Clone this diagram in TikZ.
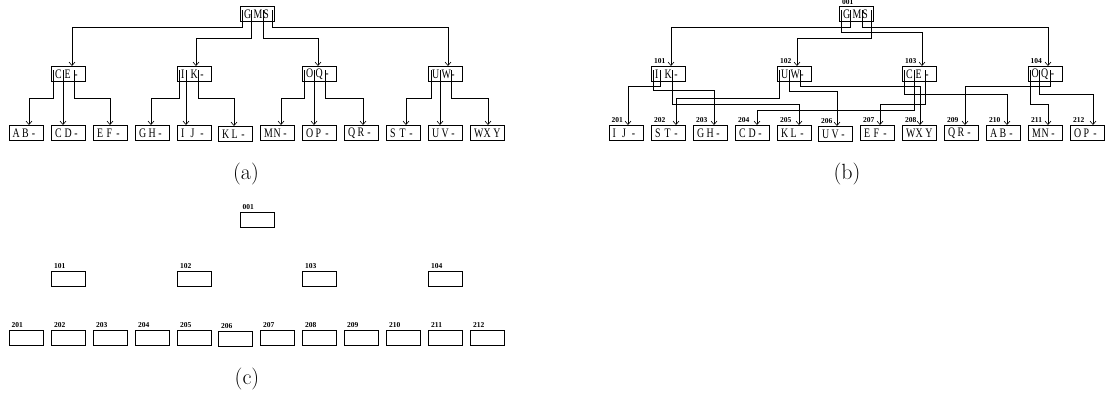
\documentclass[tikz,border=0pt]{standalone}
\usepackage{fontspec}
\usepackage{graphicx}
\newfontfamily\tms{Liberation Serif}
\newcommand\sq[1]{\makebox[9.6pt][l]{\scalebox{0.76}[1]{#1}}}
\newcommand\bt[3]{\makebox[29pt][l]{\hspace{1.2pt}\sq{#1}\sq{#2}\sq{#3}}}
\usetikzlibrary{arrows.meta}
\tikzset{
 box/.style={draw=black, line width=0.7pt, rectangle, minimum width=34pt, minimum height=15pt, inner sep=0pt, anchor=north west, font=\tms\fontsize{13}{13}\selectfont},
 lab/.style={anchor=base west, inner sep=0pt, font=\tms\bfseries\fontsize{7.5}{7.5}\selectfont},
 ptr/.style={line width=0.6pt, -{Straight Barb[length=3.5pt,width=6pt,line width=0.6pt]}},
 captext/.style={font=\fontsize{22}{26}\selectfont, anchor=base, inner sep=0pt}
}
\begin{document}
\begin{tikzpicture}[x=1pt,y=-1pt]
\useasboundingbox (0,0) rectangle (1106,394);
% ================= (a) =================
\node[box] (ar) at (240,6) {\bt{G}{M}{S}};
\node[box] (a1) at (51,66) {\bt{C}{E}{-}};
\node[box] (a2) at (177,66) {\bt{I}{K}{-}};
\node[box] (a3) at (302,66) {\bt{O}{Q}{-}};
\node[box] (a4) at (428,66) {\bt{U}{W}{-}};
\node[box] (aAB) at (8.5,125) {\bt{A}{B}{-}};
\node[box] (aCD) at (51,125) {\bt{C}{D}{-}};
\node[box] (aEF) at (93,125) {\bt{E}{F}{-}};
\node[box] (aGH) at (135,125) {\bt{G}{H}{-}};
\node[box] (aIJ) at (177,125) {\bt{I}{J}{-}};
\node[box] (aKL) at (218,126) {\bt{K}{L}{-}};
\node[box] (aMN) at (260,125) {\bt{M}{N}{-}};
\node[box] (aOP) at (302,125) {\bt{O}{P}{-}};
\node[box] (aQR) at (344,125) {\bt{Q}{R}{-}};
\node[box] (aST) at (386,125) {\bt{S}{T}{-}};
\node[box] (aUV) at (428,125) {\bt{U}{V}{-}};
\node[box] (aWXY) at (470,125) {\bt{W}{X}{Y}};
% root pointers
\draw[ptr] ([xshift=2pt,yshift=-4pt]ar.north west) |- (72,27) -- (72,0 |- a1.north);
\draw[ptr] ([xshift=11.5pt,yshift=-4pt]ar.north west) |- (196,38) -- (196,0 |- a2.north);
\draw[ptr] ([xshift=23pt,yshift=-4pt]ar.north west) |- (318,38) -- (318,0 |- a3.north);
\draw[ptr] ([xshift=32pt,yshift=-4pt]ar.north west) |- (448,27) -- (448,0 |- a4.north);
% level 1 pointers
\draw[ptr] ([xshift=2.5pt,yshift=-4pt]a1.north west) |- (29,98) -- (29,0 |- aAB.north);
\draw[ptr] ([xshift=12pt,yshift=-4pt]a1.north west) -- (63,0 |- aCD.north);
\draw[ptr] ([xshift=23pt,yshift=-4pt]a1.north west) |- (110,98) -- (110,0 |- aEF.north);
\draw[ptr] ([xshift=2pt,yshift=-4pt]a2.north west) |- (151,98) -- (151,0 |- aGH.north);
\draw[ptr] ([xshift=9pt,yshift=-4pt]a2.north west) -- (186,0 |- aIJ.north);
\draw[ptr] ([xshift=21pt,yshift=-4pt]a2.north west) |- (234,98) -- (234,0 |- aKL.north);
\draw[ptr] ([xshift=2.5pt,yshift=-4pt]a3.north west) |- (281,98) -- (281,0 |- aMN.north);
\draw[ptr] ([xshift=12pt,yshift=-4pt]a3.north west) -- (314,0 |- aOP.north);
\draw[ptr] ([xshift=23pt,yshift=-4pt]a3.north west) |- (363,98) -- (363,0 |- aQR.north);
\draw[ptr] ([xshift=3pt,yshift=-4pt]a4.north west) |- (406,98) -- (406,0 |- aST.north);
\draw[ptr] ([xshift=12pt,yshift=-4pt]a4.north west) -- (440,0 |- aUV.north);
\draw[ptr] ([xshift=23pt,yshift=-4pt]a4.north west) |- (488,98) -- (488,0 |- aWXY.north);
\node[captext] (capa) at (246,179.5) {(a)};
% ================= (b) =================
\node[box] (br) at (839,6) {\bt{G}{M}{S}};
\node[box] (b101) at (651,66) {\bt{I}{K}{-}};
\node[box] (b102) at (777,66) {\bt{U}{W}{-}};
\node[box] (b103) at (902,66) {\bt{C}{E}{-}};
\node[box] (b104) at (1027.5,66) {\bt{O}{Q}{-}};
\node[box] (b201) at (608.5,125) {\bt{I}{J}{-}};
\node[box] (b202) at (651,125) {\bt{S}{T}{-}};
\node[box] (b203) at (693,125) {\bt{G}{H}{-}};
\node[box] (b204) at (735,125) {\bt{C}{D}{-}};
\node[box] (b205) at (777,125) {\bt{K}{L}{-}};
\node[box] (b206) at (818,126) {\bt{U}{V}{-}};
\node[box] (b207) at (860,125) {\bt{E}{F}{-}};
\node[box] (b208) at (902,125) {\bt{W}{X}{Y}};
\node[box] (b209) at (944,125) {\bt{Q}{R}{-}};
\node[box] (b210) at (986,125) {\bt{A}{B}{-}};
\node[box] (b211) at (1028,125) {\bt{M}{N}{-}};
\node[box] (b212) at (1070,125) {\bt{O}{P}{-}};
\node[lab] (lbr) at ([xshift=3pt,yshift=1.3pt]br.north west) {001};
\foreach \n/\t in {b101/101,b102/102,b103/103,b104/104,b201/201,b202/202,b203/203,b204/204,b205/205,b206/206,b207/207,b208/208,b209/209,b210/210,b211/211,b212/212}
  \node[lab] (l\n) at ([xshift=3pt,yshift=3pt]\n.north west) {\t};
% root pointers
\draw[ptr] ([xshift=2pt,yshift=-4pt]br.north west) |- (922,32) -- (922,0 |- b103.north);
\draw[ptr] ([xshift=11.5pt,yshift=-4pt]br.north west) |- (671,27) -- (671,0 |- b101.north);
\draw[ptr] ([xshift=23pt,yshift=-4pt]br.north west) |- (1048,27) -- (1048,0 |- b104.north);
\draw[ptr] ([xshift=32pt,yshift=-4pt]br.north west) |- (797,38) -- (797,0 |- b102.north);
% level 1 pointers
\draw[ptr] ([xshift=2pt,yshift=-4pt]b101.north west) |- (714,90) -- (714,0 |- b203.north);
\draw[ptr] ([xshift=9pt,yshift=-4pt]b101.north west) |- (628,86) -- (628,0 |- b201.north);
\draw[ptr] ([xshift=21pt,yshift=-4pt]b101.north west) |- (799,104) -- (799,0 |- b205.north);
\draw[ptr] ([xshift=2.5pt,yshift=-4pt]b102.north west) |- (676,98) -- (676,0 |- b202.north);
\draw[ptr] ([xshift=12pt,yshift=-4pt]b102.north west) |- (837,91) -- (837,0 |- b206.north);
\draw[ptr] ([xshift=23pt,yshift=-4pt]b102.north west) |- (920,86) -- (920,0 |- b208.north);
\draw[ptr] ([xshift=2.5pt,yshift=-4pt]b103.north west) |- (1007,94) -- (1007,0 |- b210.north);
\draw[ptr] ([xshift=12pt,yshift=-4pt]b103.north west) |- (757,110) -- (757,0 |- b204.north);
\draw[ptr] ([xshift=23pt,yshift=-4pt]b103.north west) |- (880,104) -- (880,0 |- b207.north);
\draw[ptr] ([xshift=2.5pt,yshift=-4pt]b104.north west) |- (1048,104) -- (1048,0 |- b211.north);
\draw[ptr] ([xshift=12pt,yshift=-4pt]b104.north west) |- (1093,94) -- (1093,0 |- b212.north);
\draw[ptr] ([xshift=23pt,yshift=-4pt]b104.north west) |- (965,86) -- (965,0 |- b209.north);
\node[captext] (capb) at (847,179.5) {(b)};
% ================= (c) =================
\node[box] (cr) at (239.5,212) {};
\node[lab] (lcr) at ([xshift=3pt,yshift=3pt]cr.north west) {001};
\foreach \i/\x in {1/51,2/177,3/302,4/428}{
  \node[box] (c10\i) at (\x,271) {};
  \node[lab] (lc10\i) at ([xshift=3pt,yshift=3pt]c10\i.north west) {10\i};
}
\foreach \t/\x/\y in {201/8.5/330,202/51/330,203/93/330,204/135/330,205/177/330,206/218/331,207/260/330,208/302/330,209/344/330,210/386/330,211/428/330,212/470/330}{
  \node[box] (c\t) at (\x,\y) {};
  \node[lab] (lc\t) at ([xshift=3pt,yshift=3pt]c\t.north west) {\t};
}
\node[captext] (capc) at (247,384.5) {(c)};
\end{tikzpicture}
\end{document}
